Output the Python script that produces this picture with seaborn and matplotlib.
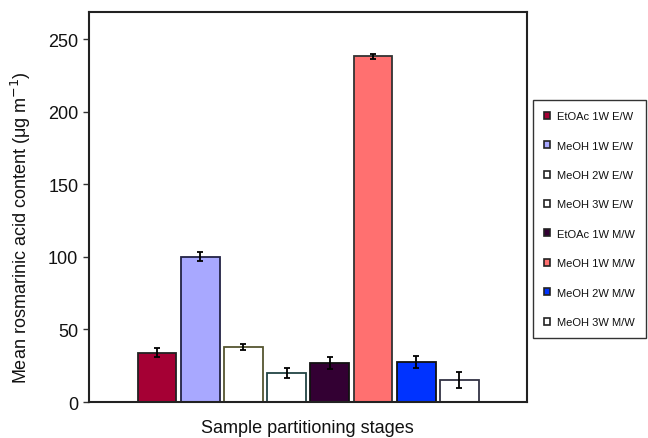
import numpy as np
import matplotlib.pyplot as plt
import seaborn as sns
from matplotlib.patches import Patch

stages = ['EtOAc 1W E/W', 'MeOH 1W E/W', 'MeOH 2W E/W', 'MeOH 3W E/W',
          'EtOAc 1W M/W', 'MeOH 1W M/W', 'MeOH 2W M/W', 'MeOH 3W M/W']
means = [34, 100, 38, 20, 27, 238, 27.5, 15]
errors = [3, 3, 2, 3.5, 4, 2, 4, 5.5]
fills = ['#A50034', '#A8A8FF', '#FFFFFF', '#FFFFFF', '#330033', '#FF7070', '#0033FF', '#FFFFFF']
edges = ['#222222', '#222244', '#555530', '#224444', '#111111', '#333333', '#111111', '#333344']

sns.set_style('white')
plt.rcParams['font.family'] = ['Liberation Sans', 'DejaVu Sans']
plt.rcParams['text.color'] = '#111111'

fig = plt.figure(figsize=(6.48, 4.39), dpi=100)
ax = fig.add_axes([0.137, 0.082, 0.676, 0.888])

sns.barplot(x=stages, y=means, hue=stages, palette=fills, legend=False, saturation=1,
            width=0.9, linewidth=1.3, edgecolor='#222222', ax=ax)
for p, ec in zip(ax.patches, edges):
    p.set_edgecolor(ec)
ax.errorbar(np.arange(len(stages)), means, yerr=errors, fmt='none',
            ecolor='black', elinewidth=1.3, capsize=2.5, capthick=1.3)

ax.set_xlim(-1.58, 8.56)
ax.set_ylim(0, 268.5)
ax.set_yticks([0, 50, 100, 150, 200, 250])
ax.set_xticks([])
ax.tick_params(axis='y', labelsize=13, labelcolor='#111111', left=True,
               length=4, width=1, color='#333333')
for s in ax.spines.values():
    s.set_color('#222222')
    s.set_linewidth(1.5)
ax.set_ylabel('Mean rosmarinic acid content (μg m$^{-1}$)', fontsize=13,
              color='#111111')
ax.yaxis.set_label_coords(-0.128, 0.449)
ax.set_xlabel('Sample partitioning stages', fontsize=13, color='#111111', labelpad=12)

handles = [Patch(facecolor=f, edgecolor='#222222', linewidth=1.2) for f in fills]
leg = fig.legend(handles, stages, loc='upper left', bbox_to_anchor=(0.822, 0.77),
                 fontsize=8, frameon=True, fancybox=False, labelspacing=1.75,
                 handlelength=0.6, handleheight=0.6, handletextpad=0.6,
                 borderpad=1.0, borderaxespad=0)
leg.get_frame().set_edgecolor('black')
leg.get_frame().set_linewidth(1.0)

fig.savefig('out.png', dpi=100)
